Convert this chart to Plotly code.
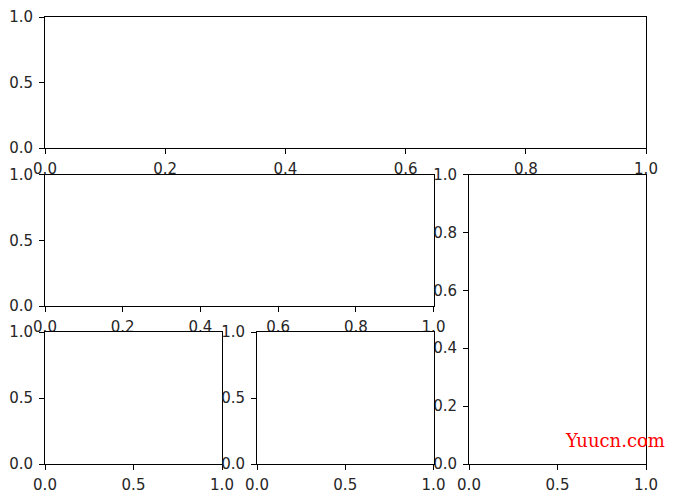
import plotly.graph_objects as go

W, H = 674, 495

# Tick values for each panel
ticks_fine = [0.0, 0.2, 0.4, 0.6, 0.8, 1.0]
ticks_coarse = [0.0, 0.5, 1.0]
axis_range = [0.0, 1.0]

panel_names = ["top", "middle", "right", "bottom_left", "bottom_mid"]
panel_xticks = [ticks_fine, ticks_fine, ticks_coarse, ticks_coarse, ticks_coarse]
panel_yticks = [ticks_coarse, ticks_coarse, ticks_fine, ticks_coarse, ticks_coarse]

watermark_text = "Yuucn.com"

# Pixel boxes (left, right, top, bottom) for each axes
boxes = [
    (45, 646, 17, 148),
    (45, 433.5, 174.5, 306),
    (469, 646, 174.5, 464),
    (45, 222, 332, 464),
    (257, 433.5, 332, 464),
]

font = dict(family="DejaVu Sans", size=15, color="#262626")

fig = go.Figure()
layout = dict(
    width=W, height=H,
    margin=dict(l=0, r=0, t=0, b=0, autoexpand=False),
    paper_bgcolor="white", plot_bgcolor="white",
    showlegend=False,
)

for i, (name, xt, yt, box) in enumerate(zip(panel_names, panel_xticks, panel_yticks, boxes)):
    n = "" if i == 0 else str(i + 1)
    l, r, t, b = box
    fig.add_trace(go.Scatter(x=[], y=[], xaxis="x" + n, yaxis="y" + n, name=name))
    common = dict(
        range=axis_range, showgrid=False, zeroline=False,
        showline=True, mirror=True, linecolor="black", linewidth=1,
        ticks="outside", ticklen=5, tickwidth=1, tickcolor="black",
        tickfont=font, tickformat=".1f", tickmode="array",
        fixedrange=True, automargin=False,
    )
    layout["xaxis" + n] = dict(common, domain=[l / W, r / W], anchor="y" + n,
                               tickvals=xt, ticklabelstandoff=2)
    layout["yaxis" + n] = dict(common, domain=[1 - b / H, 1 - t / H], anchor="x" + n,
                               tickvals=yt, ticklabelstandoff=3)

layout["annotations"] = [dict(
    text=watermark_text, xref="paper", yref="paper",
    x=563 / W, y=1 - 440 / H, xanchor="left", yanchor="middle",
    showarrow=False, font=dict(family="DejaVu Serif", size=18, color="red"),
)]

fig.update_layout(**layout)
fig.write_html(
    "out.html",
    config={"displayModeBar": False},
    post_script="document.body.style.margin='0px';document.body.style.overflow='hidden';",
)
